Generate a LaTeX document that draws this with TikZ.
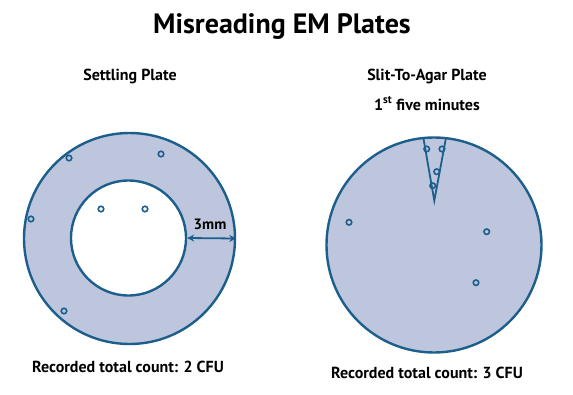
\documentclass[tikz,border=0pt]{standalone}
\usepackage{fontspec}
\setmainfont{PT Sans}
\usepackage{tikz}
\usetikzlibrary{arrows.meta}
\definecolor{plateblue}{RGB}{28,94,140}
\definecolor{agar}{RGB}{190,198,222}
\tikzstyle{plate} = [circle, draw=plateblue, line width=2.4pt, fill=agar, inner sep=0pt]
\tikzstyle{hole} = [circle, draw=plateblue, line width=2.4pt, fill=white, inner sep=0pt, minimum size=115pt]
\tikzstyle{colony} = [circle, draw=plateblue, line width=1.6pt, inner sep=0pt, minimum size=5.5pt]
\tikzstyle{heading} = [anchor=base, font=\bfseries\fontsize{16}{19}\selectfont]
\tikzstyle{slitline} = [draw=plateblue, line width=1.8pt, line join=miter]
\tikzstyle{arrow} = [line width=1.8pt, plateblue, {Stealth[length=7pt, width=7pt]}-{Stealth[length=7pt, width=7pt]}]

\begin{document}
\begin{tikzpicture}[x=1pt, y=-1pt]
\useasboundingbox (0,0) rectangle (573,394);
\node (title)[anchor=base, font=\bfseries\fontsize{28}{32}\selectfont] at (282,33) {Misreading EM Plates};
\node (settlinghead)[heading] at (130,80) {Settling Plate};
\node (slithead)[heading] at (427,80) {Slit-To-Agar Plate};
\node (slitsub)[heading] at (427,110) {1\textsuperscript{st} five minutes};
% settling plate
\node (settling)[plate, minimum size=211pt] at (129.5,238.5) {};
\node (settlinghole)[hole] at (128.5,238) {};
\node (sc1)[colony] at (69,158) {};
\node (sc2)[colony] at (161,154) {};
\node (sc3)[colony] at (31,219) {};
\node (sc4)[colony] at (64,311) {};
\node (sc5)[colony] at (101,209) {};
\node (sc6)[colony] at (145,209) {};
\draw [arrow] (settlinghole.east) -- (settling.east);
\node (gap)[anchor=base, font=\bfseries\fontsize{15}{17}\selectfont] at (210,229) {3mm};
\node (settlingcount)[heading] at (128,372) {Recorded total count: 2 CFU};
% slit-to-agar plate
\node (slit)[plate, minimum size=215pt] at (434,245) {};
\coordinate (wedgeleft) at (423.3,137.5);
\coordinate (wedgetip) at (434.3,200.7);
\coordinate (wedgeright) at (446,137.7);
\draw [slitline] (wedgeleft) -- (wedgetip) -- (wedgeright);
\node (wc1)[colony] at (426.7,149) {};
\node (wc2)[colony] at (442,149) {};
\node (wc3)[colony] at (436.7,171.7) {};
\node (wc4)[colony] at (432.7,185.7) {};
\node (ac1)[colony] at (349,222.3) {};
\node (ac2)[colony] at (486.7,231.7) {};
\node (ac3)[colony] at (476,282.7) {};
\node (slitcount)[heading] at (427,378) {Recorded total count: 3 CFU};
\end{tikzpicture}
\end{document}
